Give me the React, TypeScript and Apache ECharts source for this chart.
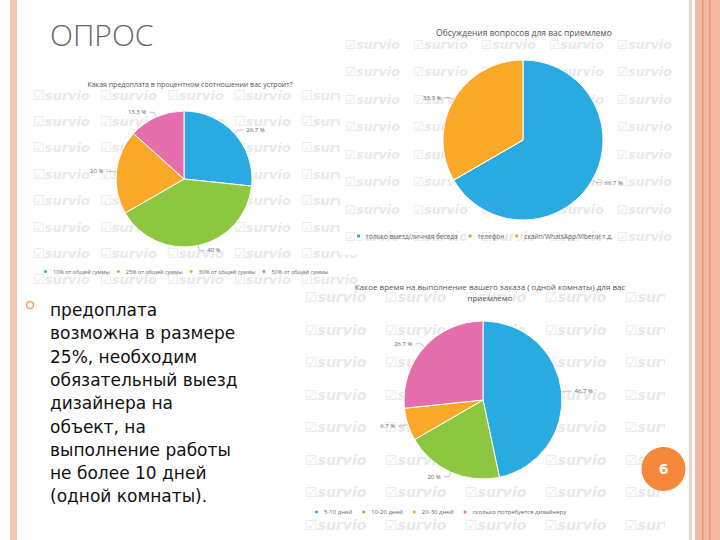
import React, { useEffect, useRef } from "react";
import * as echarts from "echarts";

const slideTitle = "ОПРОС";
const prepayTitle = "Какая предоплата в процентном соотношении вас устроит?";
const prepayNames = ["10% от общей суммы", "25% от общей суммы", "30% от общей суммы", "50% от общей суммы"];
const prepayValues = [4, 6, 3, 2];
const discussTitle = "Обсуждения вопросов для вас приемлемо";
const discussNames = ["только выезд/личная беседа", "телефон", "скайп/WhatsApp/Viber/и т.д."];
const discussValues = [10, 0, 5];
const termTitle = "Какое время на выполнение вашего заказа ( одной комнаты) для вас\nприемлемо";
const termNames = ["5-10 дней", "10-20 дней", "20-30 дней", "сколько потребуется дизайнеру"];
const termValues = [7, 3, 1, 4];
const colors4 = ["#29aae1", "#8dc63f", "#f9a827", "#e46fac"];
const colors3 = ["#29aae1", "#8dc63f", "#f9a827"];
const bodyLines = [
  "предоплата",
  "возможна в размере",
  "25%, необходим",
  "обязательный выезд",
  "дизайнера на",
  "объект, на",
  "выполнение работы",
  "не более 10 дней",
  "(одной комнаты).",
];
const pageNumber = "6";

function watermarks(x0: number, y0: number, dx: number, dy: number, cols: number, rows: number, size: number, z: number) {
  const out: any[] = [];
  for (let r = 0; r < rows; r++) {
    for (let c = 0; c < cols; c++) {
      out.push({
        type: "text",
        x: x0 + c * dx,
        y: y0 + r * dy,
        z,
        silent: true,
        style: {
          text: "☑survio",
          fill: "#e9e9e9",
          fontSize: size,
          fontStyle: "italic",
          fontWeight: "bold",
          fontFamily: "DejaVu Sans",
          verticalAlign: "middle",
        },
      });
    }
  }
  return out;
}

function pieSeries(names: string[], values: number[], cols: string[], center: number[], radius: number) {
  const total = values.reduce((a, b) => a + b, 0);
  return {
    type: "pie",
    z: 10,
    center,
    radius,
    startAngle: 90,
    clockwise: true,
    avoidLabelOverlap: false,
    itemStyle: { borderColor: "#fff", borderWidth: 1 },
    label: {
      formatter: (p: any) => {
        const v = Math.round((p.value / total) * 1000) / 10;
        return `${v} %`;
      },
      fontSize: 6,
      color: "#666",
      fontFamily: "Open Sans",
      distanceToLabelLine: 3,
    },
    labelLine: { length: 5, length2: 5, lineStyle: { color: "#999", width: 0.6 } },
    data: names.map((n, i) => {
      const item: any = { name: n, value: values[i], itemStyle: { color: cols[i] } };
      if (values[i] === 0) {
        item.label = { show: false };
        item.labelLine = { show: false };
      }
      return item;
    }),
  };
}

export default function App() {
  const ref = useRef<HTMLDivElement>(null);
  useEffect(() => {
    if (!ref.current) return;
    const chart = echarts.init(ref.current, undefined, { renderer: "svg" });
    const graphics: any[] = [];
    // region 1 watermarks
    graphics.push(...watermarks(33, 95, 67, 26.4, 5, 8, 13, 1));
    // region 3 background + watermarks
    graphics.push({ type: "rect", z: 2, silent: true, shape: { x: 300, y: 286, width: 365, height: 244 }, style: { fill: "#fff" } });
    graphics.push(...watermarks(305, 297, 80, 32.5, 5, 8, 14, 3));
    // region 2 background + watermarks
    graphics.push({ type: "rect", z: 4, silent: true, shape: { x: 340, y: 25, width: 350, height: 230 }, style: { fill: "#fff" } });
    graphics.push(...watermarks(345, 44, 68, 27.5, 5, 8, 12.5, 5));
    // masks
    graphics.push({ type: "rect", z: 6, silent: true, shape: { x: 665, y: 286, width: 25, height: 254 }, style: { fill: "#fff" } });
    graphics.push({ type: "rect", z: 6, silent: true, shape: { x: 300, y: 530, width: 390, height: 10 }, style: { fill: "#fff" } });
    graphics.push({ type: "rect", z: 6, silent: true, shape: { x: 690, y: 0, width: 30, height: 540 }, style: { fill: "#fff" } });
    // slide borders
    graphics.push({ type: "rect", z: 20, silent: true, shape: { x: 10, y: 0, width: 7, height: 540 }, style: { fill: "#f5c5b3" } });
    graphics.push({ type: "rect", z: 20, silent: true, shape: { x: 689, y: 0, width: 3, height: 540 }, style: { fill: "#f5cdbf" } });
    graphics.push({ type: "rect", z: 20, silent: true, shape: { x: 695, y: 0, width: 25, height: 540 }, style: { fill: "#f2b9a3" } });
    graphics.push({ type: "rect", z: 21, silent: true, shape: { x: 702, y: 0, width: 1.5, height: 540 }, style: { fill: "#e9926f" } });
    graphics.push({ type: "rect", z: 21, silent: true, shape: { x: 709, y: 0, width: 1.5, height: 540 }, style: { fill: "#e9926f" } });
    // slide title
    graphics.push({
      type: "text", z: 20, x: 50, y: 34,
      style: { text: slideTitle, fill: "#666", fontSize: 30, fontWeight: 300, fontFamily: "Open Sans", verticalAlign: "middle" },
    });
    // bullet
    graphics.push({ type: "circle", z: 20, shape: { cx: 30, cy: 305, r: 3.5 }, style: { fill: "#fff", stroke: "#f0a060", lineWidth: 1.5 } });
    bodyLines.forEach((t, i) => {
      graphics.push({
        type: "text", z: 20, x: 50, y: 310 + i * 23.3,
        style: { text: t, fill: "#111", fontSize: 17, fontFamily: "DejaVu Sans", verticalAlign: "middle" },
      });
    });
    // page number
    graphics.push({ type: "circle", z: 22, shape: { cx: 663.5, cy: 469, r: 22 }, style: { fill: "#f6883b" } });
    graphics.push({
      type: "text", z: 23, x: 663.5, y: 469,
      style: { text: pageNumber, fill: "#fff", fontSize: 14, fontWeight: "bold", fontFamily: "DejaVu Sans", align: "center", verticalAlign: "middle" },
    });

    const titleStyle = { fontSize: 7, fontWeight: "normal", color: "#555", fontFamily: "Open Sans" };
    chart.setOption({
      animation: false,
      backgroundColor: "#fff",
      title: [
        { text: prepayTitle, left: 185, top: 76, textAlign: "center", z: 10, textStyle: { ...titleStyle, fontSize: 7 } },
        { text: discussTitle, left: 519, top: 23, textAlign: "center", z: 10, textStyle: { ...titleStyle, fontSize: 8.5 } },
        { text: termTitle, left: 485, top: 276, textAlign: "center", z: 10, textStyle: { ...titleStyle, fontSize: 8, lineHeight: 11 } },
      ],
      legend: [
        {
          data: prepayNames, left: 37, top: 263, icon: "circle", itemWidth: 5, itemHeight: 5, itemGap: 5, z: 10,
          textStyle: { fontSize: 5.5, color: "#666", fontFamily: "Open Sans" }, selectedMode: false,
        },
        {
          data: discussNames, left: 350, top: 227.5, icon: "rect", itemWidth: 5, itemHeight: 5, itemGap: 9, z: 10,
          textStyle: { fontSize: 6.5, color: "#666", fontFamily: "Open Sans" }, selectedMode: false,
        },
        {
          data: termNames, left: 308, top: 503.5, icon: "circle", itemWidth: 5, itemHeight: 5, itemGap: 8, z: 10,
          textStyle: { fontSize: 6, color: "#666", fontFamily: "Open Sans" }, selectedMode: false,
        },
      ],
      graphic: { elements: graphics },
      series: [
        pieSeries(prepayNames, prepayValues, colors4, [184, 179], 68),
        pieSeries(discussNames, discussValues, colors3, [523, 140], 80),
        pieSeries(termNames, termValues, colors4, [483, 400], 79),
      ],
    });
    return () => chart.dispose();
  }, []);
  return <div ref={ref} style={{ position: "absolute", left: 0, top: 0, width: 720, height: 540 }} />;
}
